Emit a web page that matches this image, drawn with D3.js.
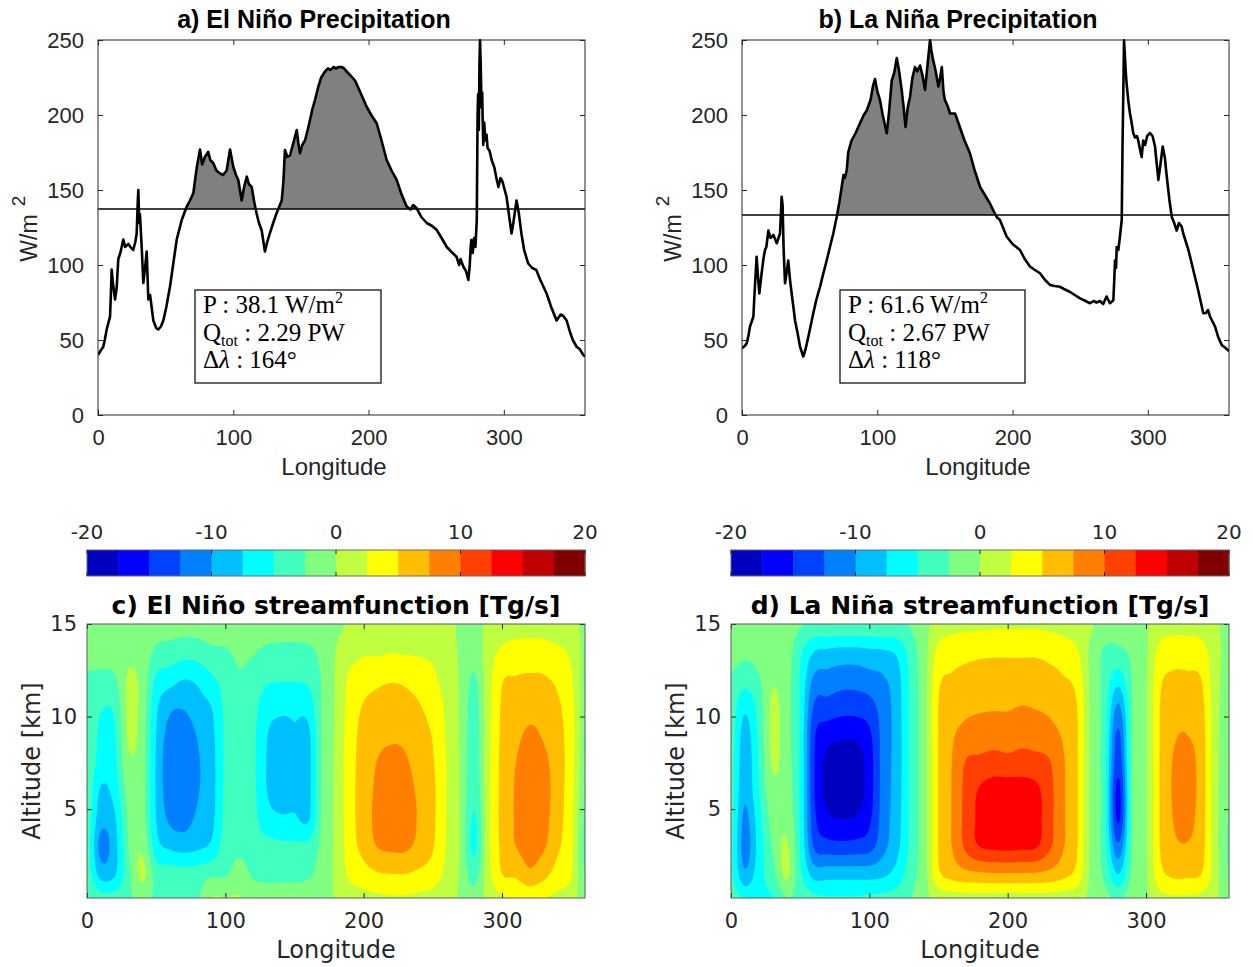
<!DOCTYPE html>
<html>
<head>
<meta charset="utf-8">
<script src="https://cdn.jsdelivr.net/npm/d3@7"></script>
<style>
  body { margin: 0; background: #fff; }
  svg { display: block; }
</style>
</head>
<body>
<svg id="fig" width="1253" height="967"></svg>
<script>
// ---------------- Precipitation (W/m^2) along longitude ----------------
const elNinoPrecip = [[0,40],[2,43],[3.9,45.5],[5,50],[6.4,57],[8.9,65.6],[9.5,80],[10.1,97],[11,88],[12.6,77],[13.8,85],[15,104],[16.5,108],[18.7,117],[20,112],[22.4,114],[24,112],[26,110],[27.5,115],[28.6,121],[29.3,140],[29.8,150],[30.5,128],[31,134],[32.3,112],[33.5,88],[35,100],[36,109],[37.2,77],[38.5,80],[40.9,63],[43,58],[44.6,57],[46.5,59],[48.3,63],[50.5,72],[53.2,85.5],[55.5,100],[58.2,117],[61.9,130],[65.6,139],[68,143],[70.5,148],[73,165],[75.4,177],[77,167],[79,172],[81.5,175.5],[83,170],[85.2,168],[87.5,163],[90.2,161],[92.5,160],[95.1,163],[97.6,177],[100,165.5],[102,160],[103.7,156.7],[106.2,143],[108,152],[110,158.9],[111.5,154],[113.6,152],[115.5,142],[117.2,134.5],[119,128],[121,123],[123.4,109],[125,115],[127,121],[129.5,128],[132,134.5],[135.8,143],[137,155],[138.2,176.7],[140,172],[141.9,173],[144,180],[146.9,190],[148,182],[149.3,174.5],[151,180],[153,183],[155,190],[156.7,196.7],[158.5,204],[160.4,210],[162.9,219],[165,225],[167.8,229],[170,231],[172,230],[174,232],[176,231],[178,232],[180,232],[182,231],[183.8,229],[187,226],[190,223],[194,215],[198.6,205.5],[202,200],[206,194.5],[209,185],[213.4,170],[217,163],[220.8,156.7],[224,148],[228.2,139],[231,137],[233,140],[235.6,137.8],[239,132],[243,128],[247,126],[250.4,123.3],[254,118],[257.8,112],[261,109],[265,105.5],[267,100],[268,104],[270,99],[272,96],[273.8,90],[274.8,100],[275.5,112],[276,116.7],[277,108],[278,118],[279,112],[280,130],[280.6,200],[281,214],[281.5,190],[282,235],[282.4,250],[283,230],[283.5,205],[284,215],[284.3,199],[284.8,180],[285.5,195],[286.3,183],[287.2,187],[288,178],[289.5,176],[291,170],[293,165],[294.5,158],[296,152],[297.5,158],[299,155.6],[302,145.5],[304,132],[305.7,121],[307,128],[309.4,143],[311,135],[313,121],[315,110],[318,101],[321,98],[324,96.7],[327,90],[331.6,81],[335,72],[339,63],[342,67],[344,66],[346.4,63],[349,55],[351,50],[353.8,45.5],[356,44],[358.8,40],[360,39]];

const laNinaPrecip = [[0,44.5],[2,46],[3.5,47.8],[5,54],[5.9,59],[8.4,65.5],[9.5,85],[10.8,105.5],[12,90],[12.8,81],[14.5,94.5],[16,105],[17,110],[18,112],[19.5,123],[21,118],[23.2,120],[25.7,114.5],[27,118],[28.1,121],[28.8,135],[29.3,145.5],[30,140],[30.8,110],[31.8,87.8],[33,95],[34.2,103],[35.5,90],[36.7,81],[38,72],[39.2,63],[41,55],[42.9,45.5],[45.3,39],[47,44],[49,52],[52.7,67.8],[55,77],[57.7,85.5],[60,94],[62.6,103],[65,112],[67.5,121],[70,132],[72,142],[73.7,152],[75,160],[76,158],[77.4,163],[78.5,175],[80,180],[81,183],[84,188],[87.2,194.5],[90,200],[92.2,203],[95,210],[97,220],[98.3,224],[100,216],[102,210],[104,200],[106,192],[107,187.8],[108.5,200],[110.7,223],[112.5,228],[114.4,238],[116,230],[118,217],[119.5,205],[120.9,192],[122.5,205],[124.2,212],[126,225],[127.9,232],[129.5,229],[131.6,233],[133.5,226],[135.3,216.7],[137,232],[139,250],[140,243],[141,238],[143,230],[145.2,219],[146.5,225],[147.7,232],[149,215],[150,210],[152,206],[153.8,201],[157.5,201],[161,192],[164.5,183],[168.5,174.5],[172,163],[176,152],[180,146],[183.3,141],[186,136],[188.3,132],[190.7,130],[195.6,119],[200,114],[205.5,110],[209,104],[212.9,99],[216,97],[220.3,94.5],[224,90],[227.7,86.7],[231,86],[235,85.5],[238,84],[242.5,82],[246,80],[249.9,77.8],[254,76],[257.2,74.5],[260,76],[262,75],[264.6,76],[267,74],[269.5,79],[272,74.5],[274.5,76.5],[275.2,90],[275.7,103],[276.5,98],[277,112],[278.2,110],[279.5,120],[280.7,130],[281.3,180],[281.8,210],[282.4,250],[283,240],[283.6,230],[284.3,221],[285.5,210],[286.8,201],[288,195],[289.2,188],[290.5,185],[292,186],[292.9,183],[294,178],[295.4,172],[296.6,183],[298,180],[299.5,186],[301.6,188],[303.5,186],[305.3,179],[306.5,168],[307.8,156.7],[309,165],[311,179],[312.5,172],[314,159],[316,143],[317.7,132],[319.5,128],[321.3,123],[323,128],[325,125.6],[326.2,121],[330,110],[333.6,96.7],[337,84],[341,67.8],[343,68],[344.5,70],[346,65.5],[348,62],[349.7,58.9],[352,52],[354.6,46.7],[357,45],[359.5,43],[360,43]];

// zonal mean precipitation (horizontal reference line)
const elNinoMean = 137.3;
const laNinaMean = 133.3;

// longitude span of the shaded convective region
const elNinoShade = [66, 236];
const laNinaShade = [69, 190];

// box statistics: P (W/m^2), Q_tot (PW), delta lambda (deg)
const elNinoStats = ["38.1", "2.29", "164"];
const laNinaStats = ["61.6", "2.67", "118"];

const precipYTicks = [0, 50, 100, 150, 200, 250];
const lonTicks = [0, 100, 200, 300];

// ---------------- Streamfunction (Tg/s), longitude x altitude ----------------
// one profile per 10 deg of longitude (0..360); each profile lists altitudes 15,13.5,...,1.5,0 km
const streamAlt = [15, 13.5, 12, 10.5, 9, 7.5, 6, 4.5, 3, 1.5, 0];
const streamLonStep = 10;

const elNinoStream = [
  [-1,-1.5,-2.8,-3,-3,-3,-3.2,-3.5,-3.8,-3.5,-2],
  [-1,-1.8,-3,-4.8,-5.5,-6,-7.8,-9,-10.8,-8.5,-3.5],
  [-1,-1.5,-2.8,-4.5,-5.2,-5.5,-6.5,-7.8,-8.5,-7.8,-3.5],
  [-0.5,-0.5,0.3,0.5,0.3,-0.5,-1.5,-2,-2.5,-3,-3],
  [-1,-1,-0.8,-1,-1.2,-1.5,-1.5,-1.5,-0.5,0.6,-2],
  [-1.5,-3,-5.5,-7,-7.5,-7.8,-7.8,-7.5,-6.5,-3.5,-2.8],
  [-1.5,-3.5,-6.5,-9.5,-11,-11.8,-11.5,-10.5,-8,-3.8,-2.8],
  [-1.6,-4,-7.5,-9.8,-11.5,-12.3,-12,-11,-8.5,-4,-2.8],
  [-1.5,-3.8,-7,-8.5,-9.8,-10.3,-10.2,-9.5,-8,-3.8,-2.6],
  [-1.3,-3,-5.5,-7.5,-8.2,-8.5,-8.5,-8.2,-7,-3,0.3],
  [-1,-2.8,-4,-4.5,-4.6,-4.6,-4.5,-4.3,-3.8,-2.8,0.3],
  [-0.8,-2,-2.8,-3.5,-3.6,-3.5,-3.4,-3.2,-3,-1.5,0.3],
  [-1,-2.3,-3.5,-4.2,-4.5,-4.5,-4.4,-4.2,-3.8,-2.8,-1],
  [-1.2,-3,-4.6,-6.5,-7.4,-7.6,-7.5,-6.5,-4.2,-3,-1.5],
  [-1.3,-3.2,-4.8,-7,-8.2,-8.5,-8.5,-7.2,-4.5,-3,-1.5],
  [-1.3,-3.2,-4.8,-7,-7.7,-7.8,-8,-7.2,-4.5,-3,-1.5],
  [-1.2,-3,-4.5,-6.5,-8,-8.2,-8.2,-7.8,-4.3,-2.8,-1.3],
  [-0.8,-1.8,-2.2,-2.2,-2.2,-2.2,-2.1,-2,-1.8,-1.5,-0.8],
  [-0.5,0.1,0.3,0.3,0.4,0.5,0.5,0.5,0.5,0.5,0.2],
  [0.3,1.5,3,3.5,3.8,4,4,4,3.8,3,1],
  [1,2.2,4,5.2,5.8,6,6.2,6.2,5.8,4,1.5],
  [1.2,2.2,4.5,5.8,6.8,7.6,8,8.2,7.6,4.8,1.8],
  [1.3,2.4,4.8,6,7.2,8,8.8,9,8,5,2],
  [1.3,2.3,4.6,5.8,7,7.8,8.5,8.8,8,5,2],
  [1.2,2.2,4,5.2,6,6.5,7,7.2,6.8,4.5,1.8],
  [1,2,3,4,4.8,5.2,5.5,5.5,5.2,3.8,1.5],
  [0.5,1,1.5,2,2.2,2.4,2.4,2.4,2.3,1.8,0.8],
  [-0.3,-0.3,-0.3,-0.3,-0.3,-0.3,-0.3,-0.3,-0.3,-0.3,-0.3],
  [-1,-1.5,-2.8,-3.5,-3.8,-4,-4.3,-5.2,-5.5,-3.5,-1.5],
  [0.5,1.2,1.5,1.6,1.7,1.8,1.8,1.8,1.8,1.6,0.8],
  [1,3,4.8,5.3,5.5,5.7,5.8,5.8,5.6,5,2],
  [1.5,3.5,5.2,6.2,7,7.5,7.7,7.7,7.5,5.5,2.2],
  [1.6,3.6,5.4,6.8,7.8,8.2,8.6,8.6,8.3,7,2.6],
  [1.5,3.5,5.3,6.6,7.3,8,8.4,8.3,7.8,5.8,2.3],
  [1.2,3,4.5,5.5,6,6.3,6.3,6,5.5,4,1.8],
  [0.8,2,2.8,3.3,3.5,3.5,3.3,3.2,3,2.6,1.2],
  [-0.5,-0.5,-0.8,-1,-1.2,-1.5,-2,-2.8,-3,-2.6,-1.5]
];

const laNinaStream = [
  [-1,-1.5,-2.8,-3.5,-3.8,-4,-4,-4.2,-4.5,-4.5,-3],
  [-1,-2,-4,-7,-8.5,-9,-9.5,-10.5,-11,-9.5,-5],
  [-1,-1.5,-2.8,-4,-4.5,-4.8,-5,-6,-6.5,-6,-5],
  [-0.5,-0.5,-0.2,0.5,0.6,0.3,-0.8,-1.5,-2.3,-3.5,-5.3],
  [-1,-1.2,-1.5,-1.5,-1.5,-1.5,-1.3,-0.8,0.3,0.5,-3],
  [-2.3,-4.5,-5.2,-5.3,-5.3,-5.3,-5.3,-5.3,-5,-4.5,-3],
  [-3,-7.5,-10.5,-12.8,-14.5,-14.8,-14.8,-14.2,-12.8,-8.5,-4],
  [-3,-8,-11,-13.5,-16.5,-18.3,-18.5,-17,-14,-8.5,-4.5],
  [-3,-8.3,-11.5,-14,-17,-19,-19.2,-17.5,-14.2,-8.5,-4.5],
  [-3,-8.3,-11.5,-14,-17,-19,-19,-17.3,-14,-8.5,-4.5],
  [-3,-8,-11,-13.5,-15.5,-16.2,-16.2,-15.5,-13.5,-8.5,-4.2],
  [-3,-7.8,-10.3,-11.3,-11.5,-11.5,-11.5,-11.3,-10.8,-8,-4],
  [-2.8,-7,-8.5,-8.8,-8.9,-8.9,-8.8,-8.6,-8.2,-6.5,-3.5],
  [-2.3,-3.8,-4.3,-4.4,-4.4,-4.4,-4.4,-4.4,-4.3,-3.5,-2.5],
  [-0.8,-0.8,-0.8,-0.8,-0.8,-0.8,-0.8,-0.8,-0.8,-0.8,-0.8],
  [1.2,3.2,4.5,5.1,5.1,5.1,5.1,5.1,5.1,4.5,0.6],
  [1.8,4,5.3,6.2,7.2,7.6,7.7,7.7,7.6,6,0.9],
  [2,4.3,5.8,6.9,8.4,10.2,10.8,10.9,10.6,6.8,1],
  [2.1,4.5,6.1,7.2,8.8,10.6,12.8,13.1,12.6,7.1,1],
  [2.2,4.6,6.2,7.3,9,11,13.8,14.2,13,7.3,1],
  [2.2,4.6,6.2,7.3,8.8,10.8,13.9,14.4,13.2,7.3,1],
  [2.2,4.6,6.2,7.6,9.2,11,13.8,14.3,13,7.3,1],
  [2.2,4.6,6.2,7.4,9,10.8,13.2,13.6,12.8,7.2,1],
  [2,4.3,5.8,7,8.5,10.2,10.9,10.9,10.5,6.8,1],
  [1.7,3.8,5.2,6,7.2,7.8,7.9,7.9,7.7,5.8,0.8],
  [1,2.8,4.2,5.1,5.3,5.3,5.3,5.3,5.2,4.2,0.6],
  [0.3,-0.5,-0.5,-0.5,-0.5,-0.5,-0.5,-0.5,-0.5,-0.5,-0.5],
  [-1,-2.8,-3.2,-3.5,-3.8,-4,-4,-4,-3.8,-3,-1.5],
  [-1.5,-3,-6.5,-10.5,-13,-14,-15.8,-15.5,-12,-7.5,-2.5],
  [-1,-2,-2.4,-2.5,-2.5,-2.5,-2.5,-2.5,-2.4,-2,-1],
  [-0.3,-0.3,-0.3,-0.3,-0.3,-0.3,-0.3,-0.3,-0.3,-0.3,-0.3],
  [1.5,3.2,4.5,5,5,5.1,5.1,5.1,5,4.2,1.5],
  [1.8,3.8,5.5,6.5,7.2,7.7,7.8,7.6,7,5.5,1.8],
  [1.8,3.8,5.5,6.8,7.5,8.3,8.5,8.2,7.3,5.5,1.8],
  [1.5,3.5,5,5.8,6.2,6.4,6.4,6.2,6,5,1.5],
  [0.5,1,1,1,1,1,1,1,1,1,0.5],
  [-1,-1,-1.2,-1.5,-1.8,-2,-2.3,-2.7,-2.8,-2.6,-1.5]
];

// contour levels and the 16-step jet palette between them
const streamLevels = [-20,-17.5,-15,-12.5,-10,-7.5,-5,-2.5,0,2.5,5,7.5,10,12.5,15,17.5,20];
const jet16 = ["#0000bf","#0000ff","#0040ff","#0080ff","#00bfff","#00ffff","#40ffbf","#80ff80",
               "#bfff40","#ffff00","#ffbf00","#ff8000","#ff4000","#ff0000","#bf0000","#800000"];
const colorbarTicks = [-20, -10, 0, 10, 20];
const altTicks = [5, 10, 15];

// ---------------------------------------------------------------------------
const svg = d3.select("#fig");
const defs = svg.append("defs");
const SANS = "'Liberation Sans', Arial, Helvetica, sans-serif";
const DEJAVU = "'DejaVu Sans', Verdana, sans-serif";
const SERIF = "'Liberation Serif', 'Times New Roman', serif";
const AXIS = "#262626";

function styleAxis(g, family, size) {
  g.attr("font-family", family).attr("font-size", size).attr("color", AXIS);
  g.select(".domain").remove();
  g.selectAll(".tick text").attr("fill", AXIS);
}

function drawPrecip(cfg) {
  const x = d3.scaleLinear().domain([0, 360]).range([cfg.left, cfg.left + 487]);
  const y = d3.scaleLinear().domain([0, 250]).range([415, 40]);
  const g = svg.append("g");

  defs.append("clipPath").attr("id", cfg.id + "-above")
    .append("rect").attr("x", x(cfg.shade[0])).attr("y", y(250))
    .attr("width", x(cfg.shade[1]) - x(cfg.shade[0])).attr("height", y(cfg.mean) - y(250));
  defs.append("clipPath").attr("id", cfg.id + "-box")
    .append("rect").attr("x", x(0)).attr("y", y(250) - 1)
    .attr("width", x(360) - x(0)).attr("height", y(0) - y(250) + 1);

  // shaded excess above the mean over the convective region
  g.append("path").datum(cfg.data)
    .attr("clip-path", `url(#${cfg.id}-above)`)
    .attr("fill", "#808080")
    .attr("d", d3.area().x(d => x(d[0])).y0(y(cfg.mean)).y1(d => y(d[1])));

  // mean line
  g.append("line")
    .attr("x1", x(0)).attr("x2", x(360)).attr("y1", y(cfg.mean)).attr("y2", y(cfg.mean))
    .attr("stroke", "#000").attr("stroke-width", 1.6);

  // precipitation curve
  g.append("path").datum(cfg.data)
    .attr("clip-path", `url(#${cfg.id}-box)`)
    .attr("fill", "none").attr("stroke", "#000").attr("stroke-width", 2.6)
    .attr("stroke-linejoin", "round")
    .attr("d", d3.line().x(d => x(d[0])).y(d => y(d[1])));

  // axes with inward ticks on all four sides
  g.append("g").attr("transform", "translate(0,415)")
    .call(d3.axisBottom(x).tickValues(lonTicks).tickSize(-5).tickSizeOuter(0).tickPadding(14))
    .call(a => styleAxis(a, SANS, 22));
  g.append("g").attr("transform", `translate(${x(0)},0)`)
    .call(d3.axisLeft(y).tickValues(precipYTicks).tickSize(-5).tickSizeOuter(0).tickPadding(14))
    .call(a => styleAxis(a, SANS, 22));
  g.append("g").attr("transform", `translate(0,${y(250)})`)
    .call(d3.axisTop(x).tickValues(lonTicks).tickSize(-5).tickSizeOuter(0).tickFormat(""))
    .call(a => styleAxis(a, SANS, 22));
  g.append("g").attr("transform", `translate(${x(360)},0)`)
    .call(d3.axisRight(y).tickValues(precipYTicks).tickSize(-5).tickSizeOuter(0).tickFormat(""))
    .call(a => styleAxis(a, SANS, 22));
  g.append("rect").attr("x", x(0)).attr("y", y(250))
    .attr("width", x(360) - x(0)).attr("height", y(0) - y(250))
    .attr("fill", "none").attr("stroke", AXIS).attr("stroke-width", 1);

  // title and axis labels
  g.append("text").attr("x", cfg.titleX).attr("y", 28).attr("text-anchor", "middle")
    .attr("font-family", SANS).attr("font-weight", "bold").attr("font-size", 25)
    .attr("fill", "#000").text(cfg.title);
  g.append("text").attr("x", cfg.labelX).attr("y", 475).attr("text-anchor", "middle")
    .attr("font-family", SANS).attr("font-size", 24).attr("fill", AXIS).text("Longitude");
  g.append("text").attr("transform", `translate(${cfg.left - 61},238) rotate(-90)`)
    .attr("text-anchor", "middle").attr("font-family", SANS).attr("font-size", 23)
    .attr("fill", AXIS).text("W/m");
  g.append("text").attr("transform", `translate(${cfg.left - 73},201) rotate(-90)`)
    .attr("text-anchor", "middle").attr("font-family", SANS).attr("font-size", 19)
    .attr("fill", AXIS).text("2");

  // statistics box
  const b = g.append("g").attr("font-family", SERIF).attr("font-size", 25).attr("fill", "#000");
  b.append("rect").attr("x", cfg.boxX).attr("y", 290).attr("width", cfg.boxW).attr("height", 93)
    .attr("fill", "#fff").attr("stroke", "#000").attr("stroke-width", 1.2);
  const tx = cfg.boxX + 8;
  const t1 = b.append("text").attr("x", tx).attr("y", 313);
  t1.append("tspan").text(`P : ${cfg.stats[0]} W/m`);
  t1.append("tspan").attr("dy", -10).attr("font-size", 16).text("2");
  const t2 = b.append("text").attr("x", tx).attr("y", 341);
  t2.append("tspan").text("Q");
  t2.append("tspan").attr("dy", 5).attr("font-size", 16).text("tot");
  t2.append("tspan").attr("dy", -5).text(` : ${cfg.stats[1]} PW`);
  const t3 = b.append("text").attr("x", tx).attr("y", 368);
  t3.append("tspan").text("Δ");
  t3.append("tspan").attr("font-style", "italic").text("λ");
  t3.append("tspan").text(` : ${cfg.stats[2]}°`);
}

// Catmull-Rom weights for smooth resampling of the profile grid
function cr(p0, p1, p2, p3, t) {
  return 0.5 * (2 * p1 + (-p0 + p2) * t + (2 * p0 - 5 * p1 + 4 * p2 - p3) * t * t +
                (-p0 + 3 * p1 - 3 * p2 + p3) * t * t * t);
}
function resample(cols, nx, ny) {
  const nc = cols.length, nr = cols[0].length;
  const at = (c, r) => cols[Math.max(0, Math.min(nc - 1, c))][Math.max(0, Math.min(nr - 1, r))];
  const out = new Float64Array(nx * ny);
  for (let j = 0; j < ny; j++) {
    const v = j * (nr - 1) / (ny - 1);
    const r1 = Math.min(Math.floor(v), nr - 2), tv = v - r1;
    for (let i = 0; i < nx; i++) {
      const u = i * (nc - 1) / (nx - 1);
      const c1 = Math.min(Math.floor(u), nc - 2), tu = u - c1;
      const rows = [];
      for (let k = -1; k <= 2; k++) {
        rows.push(cr(at(c1 - 1, r1 + k), at(c1, r1 + k), at(c1 + 1, r1 + k), at(c1 + 2, r1 + k), tu));
      }
      out[j * nx + i] = cr(rows[0], rows[1], rows[2], rows[3], tv);
    }
  }
  return out;
}

function drawStream(cfg) {
  const left = cfg.left, right = cfg.left + 498;
  const x = d3.scaleLinear().domain([0, 360]).range([left, right]);
  const y = d3.scaleLinear().domain([0.2, 15]).range([898, 624]);
  const c = d3.scaleLinear().domain([-20, 20]).range([left, right]);
  const g = svg.append("g");

  // colorbar
  const cbTop = 550, cbBot = 576;
  g.selectAll(".cb").data(jet16).join("rect")
    .attr("x", (d, i) => c(streamLevels[i])).attr("y", cbTop)
    .attr("width", (d, i) => c(streamLevels[i + 1]) - c(streamLevels[i]) + 0.5)
    .attr("height", cbBot - cbTop).attr("fill", d => d);
  g.append("rect").attr("x", left).attr("y", cbTop).attr("width", right - left)
    .attr("height", cbBot - cbTop).attr("fill", "none").attr("stroke", "#6a6a6a").attr("stroke-width", 1);
  colorbarTicks.forEach(v => {
    g.append("line").attr("x1", c(v)).attr("x2", c(v)).attr("y1", cbTop).attr("y2", cbTop + 4)
      .attr("stroke", AXIS).attr("stroke-width", 1);
    g.append("line").attr("x1", c(v)).attr("x2", c(v)).attr("y1", cbBot - 4).attr("y2", cbBot)
      .attr("stroke", AXIS).attr("stroke-width", 1);
    g.append("text").attr("x", c(v)).attr("y", 539).attr("text-anchor", "middle")
      .attr("font-family", DEJAVU).attr("font-size", 20).attr("fill", AXIS).text(v);
  });

  // title
  g.append("text").attr("x", (left + right) / 2).attr("y", 614).attr("text-anchor", "middle")
    .attr("font-family", DEJAVU).attr("font-weight", "bold").attr("font-size", 25)
    .attr("fill", "#000").text(cfg.title);

  // filled contours
  const nx = 361, ny = 301;
  const grid = resample(cfg.data, nx, ny);
  const lonStep = (cfg.data.length - 1) * streamLonStep / (nx - 1);
  const altTop = streamAlt[0], altStep = (streamAlt[0] - streamAlt[streamAlt.length - 1]) / (ny - 1);
  const proj = d3.geoTransform({
    point(px, py) { this.stream.point(x((px - 0.5) * lonStep), y(altTop - (py - 0.5) * altStep)); }
  });
  const path = d3.geoPath(proj);
  defs.append("clipPath").attr("id", cfg.id + "-plot")
    .append("rect").attr("x", left).attr("y", y(15)).attr("width", right - left).attr("height", y(0.2) - y(15));
  const cg = g.append("g").attr("clip-path", `url(#${cfg.id}-plot)`);
  cg.append("rect").attr("x", left).attr("y", y(15)).attr("width", right - left)
    .attr("height", y(0.2) - y(15)).attr("fill", jet16[0]);
  const thresholds = streamLevels.slice(1, -1);
  const contours = d3.contours().size([nx, ny]).thresholds(thresholds)(grid);
  cg.selectAll("path").data(contours).join("path")
    .attr("d", path)
    .attr("fill", (d, i) => jet16[i + 1]);

  // axes
  g.append("g").attr("transform", "translate(0,898)")
    .call(d3.axisBottom(x).tickValues(lonTicks).tickSize(-5).tickSizeOuter(0).tickPadding(15))
    .call(a => styleAxis(a, DEJAVU, 21));
  g.append("g").attr("transform", `translate(${left},0)`)
    .call(d3.axisLeft(y).tickValues(altTicks).tickSize(-5).tickSizeOuter(0).tickPadding(10))
    .call(a => styleAxis(a, DEJAVU, 21));
  g.append("g").attr("transform", `translate(0,${y(15)})`)
    .call(d3.axisTop(x).tickValues(lonTicks).tickSize(-5).tickSizeOuter(0).tickFormat(""))
    .call(a => styleAxis(a, DEJAVU, 21));
  g.append("g").attr("transform", `translate(${right},0)`)
    .call(d3.axisRight(y).tickValues(altTicks).tickSize(-5).tickSizeOuter(0).tickFormat(""))
    .call(a => styleAxis(a, DEJAVU, 21));
  g.append("rect").attr("x", left).attr("y", y(15)).attr("width", right - left)
    .attr("height", y(0.2) - y(15)).attr("fill", "none").attr("stroke", "#5a5a5a").attr("stroke-width", 1);

  g.append("text").attr("x", (left + right) / 2).attr("y", 958).attr("text-anchor", "middle")
    .attr("font-family", DEJAVU).attr("font-size", 24).attr("fill", AXIS).text("Longitude");
  g.append("text").attr("transform", `translate(${left - 47},761) rotate(-90)`)
    .attr("text-anchor", "middle").attr("font-family", DEJAVU).attr("font-size", 24)
    .attr("fill", AXIS).text("Altitude [km]");
}

drawPrecip({ id: "pa", left: 98, data: elNinoPrecip, mean: elNinoMean, stats: elNinoStats, shade: elNinoShade,
  title: "a) El Niño Precipitation", titleX: 314, labelX: 334, boxX: 195, boxW: 186 });
drawPrecip({ id: "pb", left: 742, data: laNinaPrecip, mean: laNinaMean, stats: laNinaStats, shade: laNinaShade,
  title: "b) La Niña Precipitation", titleX: 958, labelX: 978, boxX: 840, boxW: 185 });
drawStream({ id: "sc", left: 87, data: elNinoStream, title: "c) El Niño streamfunction [Tg/s]" });
drawStream({ id: "sd", left: 731, data: laNinaStream, title: "d) La Niña streamfunction [Tg/s]" });
</script>
</body>
</html>
